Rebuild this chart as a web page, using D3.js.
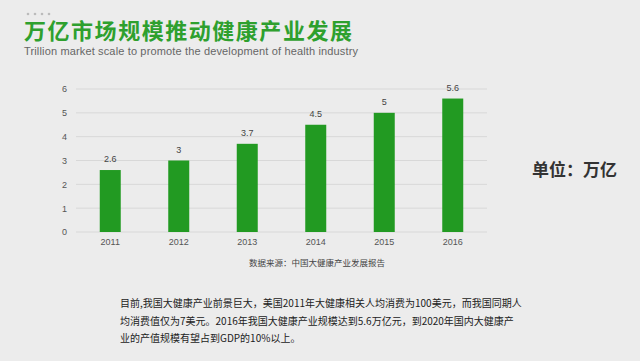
<!DOCTYPE html>
<html>
<head>
<meta charset="utf-8">
<script src="https://cdn.jsdelivr.net/npm/d3@7"></script>
<style>
  body { margin: 0; background: #ececec; }
  svg { display: block; font-family: "Noto Sans CJK SC", "Liberation Sans", sans-serif; }
</style>
</head>
<body>
<div id="chart"></div>
<script>
const years = ['2011', '2012', '2013', '2014', '2015', '2016'];
const scale = [2.6, 3, 3.7, 4.5, 5, 5.6];
const yTicks = [0, 1, 2, 3, 4, 5, 6];
const bodyLines = [
  '目前,我国大健康产业前景巨大，美国2011年大健康相关人均消费为100美元，而我国同期人',
  '均消费值仅为7美元。2016年我国大健康产业规模达到5.6万亿元，到2020年国内大健康产',
  '业的产值规模有望占到GDP的10%以上。'
];

const width = 640, height = 361;
const green = '#229a22';

const svg = d3.select('#chart').append('svg')
  .attr('width', width)
  .attr('height', height);

svg.append('rect').attr('width', width).attr('height', height).attr('fill', '#ececec');

// little dots above title
svg.selectAll('circle.dot')
  .data(d3.range(4))
  .enter().append('circle')
  .attr('cx', d => 28 + d * 7)
  .attr('cy', 14)
  .attr('r', 1.3)
  .attr('fill', '#bbb');

svg.append('text')
  .attr('x', 24).attr('y', 39)
  .style('font-size', '22px').style('font-weight', 'bold')
  .style('fill', '#2ea02e')
  .attr('textLength', 328)
  .text('万亿市场规模推动健康产业发展');

svg.append('text')
  .attr('x', 24).attr('y', 55)
  .style('font-size', '11px')
  .style('font-family', 'Liberation Sans, sans-serif')
  .style('fill', '#666')
  .attr('textLength', 334)
  .text('Trillion market scale to promote the development of health industry');

// chart
const x = d3.scaleBand().domain(years).range([76, 487]).padding(0);
const barW = 21;
const y = d3.scaleLinear().domain([0, 6]).range([232, 89]);

const g = svg.append('g');

g.selectAll('line.grid')
  .data(yTicks)
  .enter().append('line')
  .attr('x1', 76).attr('x2', 487)
  .attr('y1', d => y(d)).attr('y2', d => y(d))
  .attr('stroke', '#d8d8d8').attr('stroke-width', 1);

const yAxis = g.append('g')
  .attr('transform', 'translate(70,0)')
  .call(d3.axisLeft(y).tickValues(yTicks).tickSize(0).tickFormat(d3.format('d')));
yAxis.select('.domain').remove();
yAxis.selectAll('text')
  .style('font-family', 'Liberation Sans, sans-serif')
  .style('font-size', '9px').style('fill', '#555');

const xAxis = g.append('g')
  .attr('transform', 'translate(0,236)')
  .call(d3.axisBottom(x).tickSize(0));
xAxis.select('.domain').remove();
xAxis.selectAll('text')
  .style('font-family', 'Liberation Sans, sans-serif')
  .style('font-size', '9px').style('fill', '#555');

g.selectAll('rect.bar')
  .data(scale)
  .enter().append('rect')
  .attr('x', (d, i) => x(years[i]) + x.bandwidth() / 2 - barW / 2)
  .attr('y', d => y(d))
  .attr('width', barW)
  .attr('height', d => y(0) - y(d))
  .attr('fill', green);

g.selectAll('text.val')
  .data(scale)
  .enter().append('text')
  .attr('x', (d, i) => x(years[i]) + x.bandwidth() / 2)
  .attr('y', d => y(d) - 8)
  .attr('text-anchor', 'middle')
  .style('font-family', 'Liberation Sans, sans-serif')
  .style('font-size', '9px').style('fill', '#444')
  .text(d => d);

svg.append('text')
  .attr('x', 317).attr('y', 266)
  .attr('text-anchor', 'middle')
  .style('font-size', '8.5px').style('fill', '#444')
  .text('数据来源：中国大健康产业发展报告');

svg.append('text')
  .attr('x', 532).attr('y', 176)
  .style('font-size', '17px').style('font-weight', 'bold')
  .style('fill', '#333')
  .text('单位：万亿');

svg.selectAll('text.body')
  .data(bodyLines)
  .enter().append('text')
  .attr('x', 120)
  .attr('y', (d, i) => 307 + i * 17.5)
  .style('font-size', '10px').style('fill', '#222')
  .text(d => d);
</script>
</body>
</html>
